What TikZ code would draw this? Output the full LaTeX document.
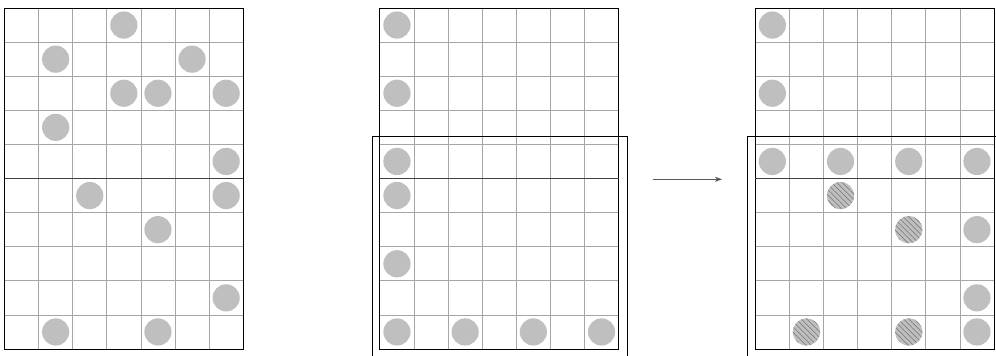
\documentclass[tikz,border=0pt]{standalone}
\usetikzlibrary{patterns.meta,arrows.meta}
\begin{document}
\begin{tikzpicture}[x=1pt,y=-1pt,
  gridline/.style={draw=black!35,line width=0.8pt},
  frame/.style={draw=black,line width=1pt},
  split/.style={draw=black!75,line width=1.1pt},
  dot/.style={fill=lightgray},
  hatch/.style={pattern={Lines[angle=-45,distance=3.8pt,line width=0.55pt]},pattern color=black!55}]
\useasboundingbox (0,0) rectangle (996,356);
\fill[white] (0,0) rectangle (996,356);
\def\cs{34.1}
\def\rr{13.6}
% grids
\foreach \ox in {4.5,379.9,755.3}{
  \foreach \i in {1,...,6} \draw[gridline] (\ox+\i*\cs,8) -- (\ox+\i*\cs,349);
  \foreach \j in {1,...,9} \draw[gridline] (\ox,8+\j*\cs) -- (\ox+7*\cs,8+\j*\cs);
}
% circles grid 1
\foreach \c/\r in {3/0,1/1,5/1,3/2,4/2,6/2,1/3,6/4,2/5,6/5,4/6,6/8,1/9,4/9}
  \fill[dot] (4.5+\c*\cs+0.5*\cs,8+\r*\cs+0.5*\cs) circle (\rr);
% circles grid 2
\foreach \c/\r in {0/0,0/2,0/4,0/5,0/7,0/9,2/9,4/9,6/9}
  \fill[dot] (379.9+\c*\cs+0.5*\cs,8+\r*\cs+0.5*\cs) circle (\rr);
% circles grid 3
\foreach \c/\r in {0/0,0/2,0/4,2/4,4/4,6/4,2/5,4/6,6/6,6/8,1/9,4/9,6/9}
  \fill[dot] (755.3+\c*\cs+0.5*\cs,8+\r*\cs+0.5*\cs) circle (\rr);
\foreach \c/\r in {2/5,4/6,1/9,4/9}
  \fill[hatch] (755.3+\c*\cs+0.5*\cs,8+\r*\cs+0.5*\cs) circle (\rr);
% frames and split lines
\foreach \ox in {4.5,379.9,755.3}{
  \draw[frame] (\ox,8) rectangle (\ox+7*\cs,349);
  \draw[split] (\ox,8+5*\cs) -- (\ox+7*\cs,8+5*\cs);
}
\draw[frame] (372,360) -- (372,136) -- (627.3,136) -- (627.3,360);
\draw[frame] (747,360) -- (747,136) -- (1003,136);
% arrow
\coordinate (as) at (652.7,179.3);
\coordinate (ae) at (722,179.3);
\draw[black!65,line width=0.9pt,-{Stealth[length=7pt,width=5pt,inset=2pt]}] (as) -- (ae);
\end{tikzpicture}
\end{document}
